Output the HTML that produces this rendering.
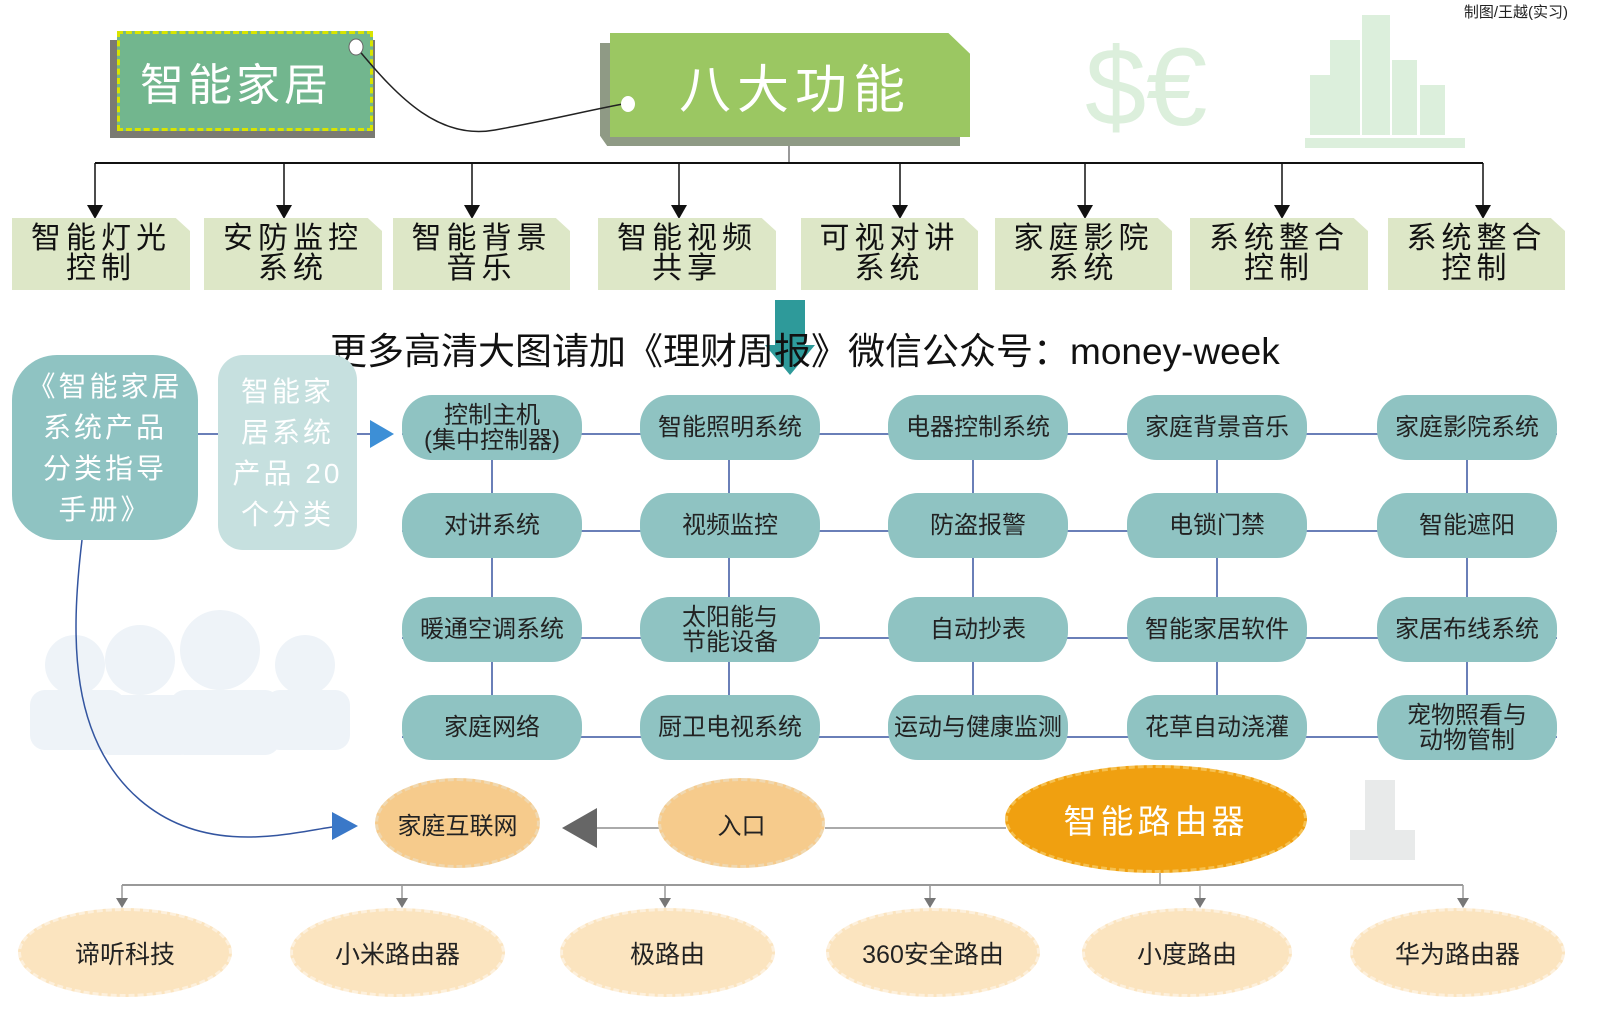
<!DOCTYPE html>
<html><head><meta charset="utf-8"><style>
body{margin:0;width:1600px;height:1019px;background:#fff;position:relative;overflow:hidden;font-family:"Liberation Sans","Noto Sans CJK SC",sans-serif}
.a{position:absolute;box-sizing:border-box;display:flex;align-items:center;justify-content:center;text-align:center}
.g{background:#dde7c7;clip-path:polygon(0 0,92% 0,100% 18%,100% 100%,0 100%);font-size:30px;line-height:30px;letter-spacing:5px;color:#111}
.t{background:#8fc3c2;border-radius:30px;font-size:24px;line-height:25px;color:#222}
.o{border-radius:50%;background:#f6cb8c;border:3px dashed #f0d8b0;font-size:24px;color:#222}
.b{border-radius:50%;background:#fbe4bf;border:3px dashed #fdf0dc;font-size:25px;color:#222}
</style></head><body>
<svg width="1600" height="1019" style="position:absolute;left:0;top:0">
<g fill="#dcefdc">
<rect x="1330" y="40" width="30" height="95"/><rect x="1362" y="15" width="28" height="120"/><rect x="1392" y="60" width="25" height="75"/><rect x="1420" y="85" width="25" height="50"/><rect x="1310" y="75" width="20" height="60"/><rect x="1305" y="138" width="160" height="10"/>
</g>
<text x="1085" y="125" font-size="110" fill="#dcefdc" font-family="Liberation Sans">$€</text>
<g fill="#eef3f8">
<circle cx="75" cy="665" r="30"/><rect x="30" y="690" width="95" height="60" rx="15"/>
<circle cx="140" cy="660" r="35"/><rect x="95" y="695" width="100" height="60" rx="15"/>
<circle cx="220" cy="650" r="40"/><rect x="170" y="690" width="110" height="65" rx="15"/>
<circle cx="305" cy="665" r="30"/><rect x="265" y="690" width="85" height="60" rx="15"/>
</g>
<g fill="#e8eaea"><rect x="1365" y="780" width="30" height="80"/><rect x="1350" y="830" width="65" height="30"/></g>
<line x1="789" y1="137" x2="789" y2="163" stroke="#999" stroke-width="2"/>
<line x1="95" y1="163" x2="1483" y2="163" stroke="#111" stroke-width="2"/>
<g stroke="#111" stroke-width="1.5">
<line x1="95" y1="163" x2="95" y2="208"/><line x1="284" y1="163" x2="284" y2="208"/><line x1="472" y1="163" x2="472" y2="208"/><line x1="679" y1="163" x2="679" y2="208"/><line x1="900" y1="163" x2="900" y2="208"/><line x1="1085" y1="163" x2="1085" y2="208"/><line x1="1282" y1="163" x2="1282" y2="208"/><line x1="1483" y1="163" x2="1483" y2="208"/>
</g>
<g fill="#111">
<path d="M87 205h16l-8 14z"/><path d="M276 205h16l-8 14z"/><path d="M464 205h16l-8 14z"/><path d="M671 205h16l-8 14z"/><path d="M892 205h16l-8 14z"/><path d="M1077 205h16l-8 14z"/><path d="M1274 205h16l-8 14z"/><path d="M1475 205h16l-8 14z"/>
</g>
<path d="M775 300h30v45h10l-25 30-25-30h10z" fill="#2e9a9a"/>
<g stroke="#6a7fb8" stroke-width="2">
<line x1="198" y1="434" x2="218" y2="434"/><line x1="357" y1="434" x2="370" y2="434"/>
<line x1="402" y1="434" x2="1557" y2="434"/><line x1="402" y1="531" x2="1557" y2="531"/><line x1="402" y1="638" x2="1557" y2="638"/><line x1="402" y1="737" x2="1557" y2="737"/>
<line x1="492" y1="430" x2="492" y2="740"/><line x1="729" y1="430" x2="729" y2="740"/><line x1="973" y1="430" x2="973" y2="740"/><line x1="1217" y1="430" x2="1217" y2="740"/><line x1="1467" y1="430" x2="1467" y2="740"/>
</g>
<path d="M370 420l24 14-24 14z" fill="#3d8fd6"/>
<path d="M82 540 C70 640,70 740,140 800 S300 830,340 826" stroke="#3355a0" stroke-width="1.5" fill="none"/>
<path d="M332 812l26 14-26 14z" fill="#3a78c8"/>
<line x1="597" y1="828" x2="660" y2="828" stroke="#aaa" stroke-width="2"/>
<path d="M597 808v40l-35-20z" fill="#666"/>
<line x1="825" y1="828" x2="1006" y2="828" stroke="#aaa" stroke-width="2"/>
<line x1="1160" y1="873" x2="1160" y2="885" stroke="#999" stroke-width="1.5"/>
<line x1="122" y1="885" x2="1463" y2="885" stroke="#999" stroke-width="2"/>
<g stroke="#999" stroke-width="1.5"><line x1="122" y1="885" x2="122" y2="900"/><line x1="402" y1="885" x2="402" y2="900"/><line x1="665" y1="885" x2="665" y2="900"/><line x1="930" y1="885" x2="930" y2="900"/><line x1="1200" y1="885" x2="1200" y2="900"/><line x1="1463" y1="885" x2="1463" y2="900"/></g>
<g fill="#777"><path d="M116 898h12l-6 10z"/><path d="M396 898h12l-6 10z"/><path d="M659 898h12l-6 10z"/><path d="M924 898h12l-6 10z"/><path d="M1194 898h12l-6 10z"/><path d="M1457 898h12l-6 10z"/></g>
</svg>
<div style="position:absolute;right:32px;top:1px;font-size:15px;color:#222">制图/王越(实习)</div>
<div class="a" style="left:110px;top:40px;width:265px;height:98px;background:#7a7a72"></div>
<div class="a" style="left:117px;top:31px;width:256px;height:100px;background:#72b68e;border:3px dashed #d8e400;color:#fff;font-size:44px;letter-spacing:4px;justify-content:flex-start;padding-left:20px">智能家居</div>
<div class="a" style="left:600px;top:43px;width:360px;height:103px;background:#8f9a85;clip-path:polygon(0 0,93% 0,100% 20%,100% 100%,2% 100%,0 90%)"></div>
<div class="a" style="left:610px;top:33px;width:360px;height:104px;background:#9bc762;clip-path:polygon(0 0,94% 0,100% 20%,100% 100%,0 100%);color:#fff;font-size:52px;letter-spacing:6px;padding-left:10px">八大功能</div>
<svg width="1600" height="200" style="position:absolute;left:0;top:0">
<path d="M357 48 C400 100,440 140,495 130 S590 110,628 103" stroke="#222" stroke-width="1.5" fill="none"/>
<ellipse cx="356" cy="47" rx="7" ry="8" fill="#fff" stroke="#666"/>
<ellipse cx="628" cy="104" rx="7" ry="8" fill="#fff"/>
</svg>
<div class="a g" style="left:12px;top:218px;width:178px;height:72px">智能灯光<br>控制</div>
<div class="a g" style="left:204px;top:218px;width:178px;height:72px">安防监控<br>系统</div>
<div class="a g" style="left:393px;top:218px;width:177px;height:72px">智能背景<br>音乐</div>
<div class="a g" style="left:598px;top:218px;width:178px;height:72px">智能视频<br>共享</div>
<div class="a g" style="left:801px;top:218px;width:177px;height:72px">可视对讲<br>系统</div>
<div class="a g" style="left:995px;top:218px;width:177px;height:72px">家庭影院<br>系统</div>
<div class="a g" style="left:1190px;top:218px;width:178px;height:72px">系统整合<br>控制</div>
<div class="a g" style="left:1388px;top:218px;width:177px;height:72px">系统整合<br>控制</div>
<div style="position:absolute;left:330px;top:321px;font-size:37px;color:#111;white-space:nowrap">更多高清大图请加《理财周报》微信公众号：money-week</div>
<div class="a" style="left:12px;top:355px;width:186px;height:185px;background:#8fc3c2;border-radius:45px;color:#fff;font-size:28px;line-height:41px;letter-spacing:3px">《智能家居<br>系统产品<br>分类指导<br>手册》</div>
<div class="a" style="left:218px;top:355px;width:139px;height:195px;background:#c6e0df;border-radius:25px;color:#fff;font-size:28px;line-height:41px;letter-spacing:3px">智能家<br>居系统<br>产品 20<br>个分类</div>
<div class="a t" style="left:402px;top:395px;width:180px;height:65px">控制主机<br>(集中控制器)</div>
<div class="a t" style="left:640px;top:395px;width:180px;height:65px">智能照明系统</div>
<div class="a t" style="left:888px;top:395px;width:180px;height:65px">电器控制系统</div>
<div class="a t" style="left:1127px;top:395px;width:180px;height:65px">家庭背景音乐</div>
<div class="a t" style="left:1377px;top:395px;width:180px;height:65px">家庭影院系统</div>
<div class="a t" style="left:402px;top:493px;width:180px;height:65px">对讲系统</div>
<div class="a t" style="left:640px;top:493px;width:180px;height:65px">视频监控</div>
<div class="a t" style="left:888px;top:493px;width:180px;height:65px">防盗报警</div>
<div class="a t" style="left:1127px;top:493px;width:180px;height:65px">电锁门禁</div>
<div class="a t" style="left:1377px;top:493px;width:180px;height:65px">智能遮阳</div>
<div class="a t" style="left:402px;top:597px;width:180px;height:65px">暖通空调系统</div>
<div class="a t" style="left:640px;top:597px;width:180px;height:65px">太阳能与<br>节能设备</div>
<div class="a t" style="left:888px;top:597px;width:180px;height:65px">自动抄表</div>
<div class="a t" style="left:1127px;top:597px;width:180px;height:65px">智能家居软件</div>
<div class="a t" style="left:1377px;top:597px;width:180px;height:65px">家居布线系统</div>
<div class="a t" style="left:402px;top:695px;width:180px;height:65px">家庭网络</div>
<div class="a t" style="left:640px;top:695px;width:180px;height:65px">厨卫电视系统</div>
<div class="a t" style="left:888px;top:695px;width:180px;height:65px">运动与健康监测</div>
<div class="a t" style="left:1127px;top:695px;width:180px;height:65px">花草自动浇灌</div>
<div class="a t" style="left:1377px;top:695px;width:180px;height:65px">宠物照看与<br>动物管制</div>
<div class="a o" style="left:375px;top:778px;width:165px;height:90px">家庭互联网</div>
<div class="a o" style="left:658px;top:778px;width:167px;height:90px">入口</div>
<div class="a" style="left:1005px;top:765px;width:302px;height:108px;border-radius:50%;background:#f0a010;border:3px dashed #f5c050;color:#fff;font-size:33px;letter-spacing:4px">智能路由器</div>
<div class="a b" style="left:18px;top:908px;width:214px;height:89px">谛听科技</div>
<div class="a b" style="left:290px;top:908px;width:215px;height:89px">小米路由器</div>
<div class="a b" style="left:560px;top:908px;width:215px;height:89px">极路由</div>
<div class="a b" style="left:826px;top:908px;width:214px;height:89px">360安全路由</div>
<div class="a b" style="left:1082px;top:908px;width:210px;height:89px">小度路由</div>
<div class="a b" style="left:1350px;top:908px;width:215px;height:89px">华为路由器</div>
</body></html>
